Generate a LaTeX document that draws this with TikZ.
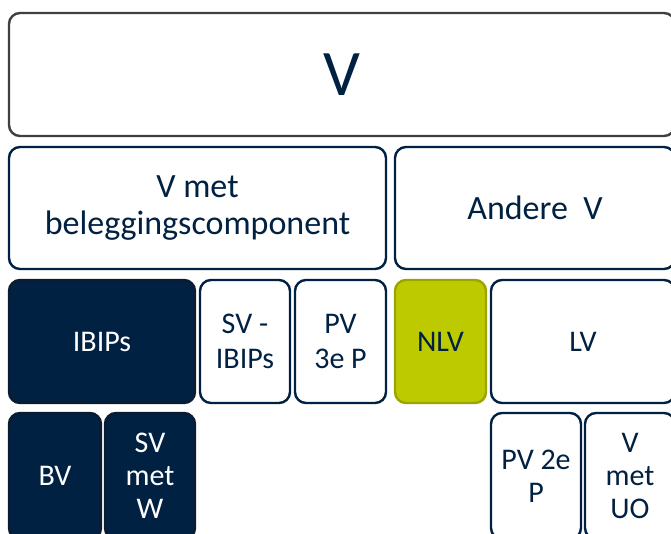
\documentclass[tikz,border=0pt]{standalone}
\usepackage{fontspec}
\setmainfont{Carlito}
\definecolor{navy}{RGB}{0,33,66}
\definecolor{navyline}{RGB}{12,28,48}
\definecolor{greyline}{RGB}{64,64,64}
\definecolor{lime}{RGB}{190,202,0}
\definecolor{limeline}{RGB}{155,165,0}
\tikzset{
  box/.style={draw=navy, line width=2.4pt, rounded corners=11pt, fill=white,
    text=navy, align=center, inner sep=0pt, font=\fontsize{30}{33}\selectfont},
  darkbox/.style={box, draw=navyline, fill=navy, text=white},
  limebox/.style={box, draw=limeline, fill=lime},
  size/.style 2 args={minimum width=#1pt, minimum height=#2pt}
}
\begin{document}
\begin{tikzpicture}[x=1pt,y=-1pt]
  \useasboundingbox (0,0) rectangle (671,533);
  \clip (0,0) rectangle (671,533);
  % top level
  \node[box, draw=greyline, size={666}{123}, font=\fontsize{65}{70}\selectfont]
    (top) at (342,74.5) {V};
  % second level
  \node[box, size={377}{122}, font=\fontsize{34}{37}\selectfont]
    (vmet) at (197.5,208) {V met\\beleggingscomponent};
  \node[box, size={280}{122}, font=\fontsize{34}{37}\selectfont]
    (andere) at (535,208) {Andere\ \ V};
  % third level
  \node[darkbox, size={186}{123}] (ibips) at (102,341.5) {IBIPs};
  \node[box, size={90}{123}, font=\fontsize{30}{35}\selectfont]
    (svibips) at (245,341.5) {SV -\\IBIPs};
  \node[box, size={91}{123}, font=\fontsize{30}{35}\selectfont]
    (pv3) at (340.5,341.5) {PV\\3e P};
  \node[limebox, size={91}{123}] (nlv) at (440.5,341.5) {NLV};
  \node[box, size={184}{123}] (lv) at (583,341.5) {LV};
  % fourth level
  \node[darkbox, size={92}{126}] (bv) at (55,476) {BV};
  \node[darkbox, size={90}{126}] (svw) at (150,476) {SV\\met\\W};
  \node[box, size={90}{126}] (pv2) at (536,476) {PV 2e\\P};
  \node[box, size={90}{126}] (vuo) at (630,476) {V\\met\\UO};
\end{tikzpicture}
\end{document}
